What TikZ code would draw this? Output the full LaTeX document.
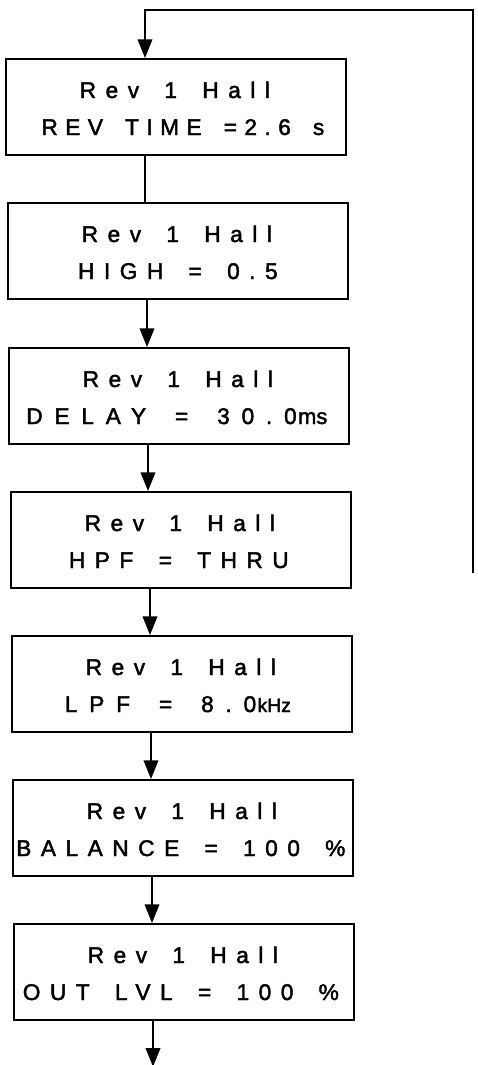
\documentclass[tikz,border=0pt]{standalone}
\usepackage{fontspec}
\setmainfont{Liberation Sans}
\newfontfamily\lcdfont[LetterSpace=42,WordSpace=1.6,FakeBold=2]{Liberation Sans}
\newfontfamily\unitfont[FakeBold=2]{Liberation Sans}
\usetikzlibrary{arrows.meta,calc}
\newcommand{\unitms}[1]{{\fontsize{16.5}{18}\selectfont\unitfont\kern1pt #1}}
\newcommand{\unitkhz}[1]{{\fontsize{14.5}{16}\selectfont\unitfont\kern1pt #1}}
\begin{document}
\begin{tikzpicture}[x=0.75pt,y=-0.75pt,
  lcdbox/.style={draw,line width=1.3pt,minimum width=255pt,minimum height=72pt,inner sep=0pt,anchor=north west},
  lcdtext/.style={anchor=base,inner sep=0pt,font=\fontsize{17}{20}\selectfont\lcdfont},
  flow/.style={line width=1.2pt},
  arr/.style={line width=1.2pt,-{Triangle[width=11pt,length=14pt]}}]
\useasboundingbox (0,0) rectangle (478,1065);
% boxes
\node[lcdbox] (b1) at (5,58) {};
\node[lcdbox] (b2) at (7,202) {};
\node[lcdbox] (b3) at (8,347) {};
\node[lcdbox] (b4) at (10,491) {};
\node[lcdbox] (b5) at (11,635) {};
\node[lcdbox] (b6) at (12,779) {};
\node[lcdbox] (b7) at (13,923) {};
% texts
\foreach \b in {b1,b2,b3,b4,b5,b6,b7}{
  \node[lcdtext] (\b top) at ($(\b.north)+(-1,40)$) {Rev 1 Hall};
}
\node[lcdtext] (t1) at ($(b1.north)+(7,77)$) {\addfontfeature{LetterSpace=33}REV TIME =2.6 s};
\node[lcdtext] (t2) at ($(b2.north)+(0,77)$) {HIGH = 0.5};
\node[lcdtext] (t3) at ($(b3.north)+(-2,77)$) {\addfontfeature{LetterSpace=52}DELAY = 30.0\unitms{ms}};
\node[lcdtext] (t4) at ($(b4.north)+(-2,77)$) {HPF = THRU};
\node[lcdtext] (t5) at ($(b5.north)+(-4,77)$) {\addfontfeature{LetterSpace=52}LPF = 8.0\unitkhz{kHz}};
\node[lcdtext] (t6) at ($(b6.north)+(-2,77)$) {BALANCE = 100 \%};
\node[lcdtext] (t7) at ($(b7.north)+(-3,77)$) {OUT LVL = 100 \%};
% connectors
\coordinate (loopstart) at (473,573);
\coordinate (bottomend) at ($(b7.south west)+(140,46)$);
\draw[arr] (loopstart) -- (473,10) -| ([xshift=105pt]b1.north west);
\draw[flow] ([xshift=105pt]b1.south west) -- ([xshift=105pt]b1.south west |- b2.north);
\draw[arr] ([xshift=105pt]b2.south west) -- ([xshift=105pt]b2.south west |- b3.north);
\draw[arr] ([xshift=105pt]b3.south west) -- ([xshift=105pt]b3.south west |- b4.north);
\draw[arr] ([xshift=105pt]b4.south west) -- ([xshift=105pt]b4.south west |- b5.north);
\draw[arr] ([xshift=105pt]b5.south west) -- ([xshift=105pt]b5.south west |- b6.north);
\draw[arr] ([xshift=105pt]b6.south west) -- ([xshift=105pt]b6.south west |- b7.north);
\draw[arr] ([xshift=105pt]b7.south west) -- (bottomend);
\end{tikzpicture}
\end{document}
